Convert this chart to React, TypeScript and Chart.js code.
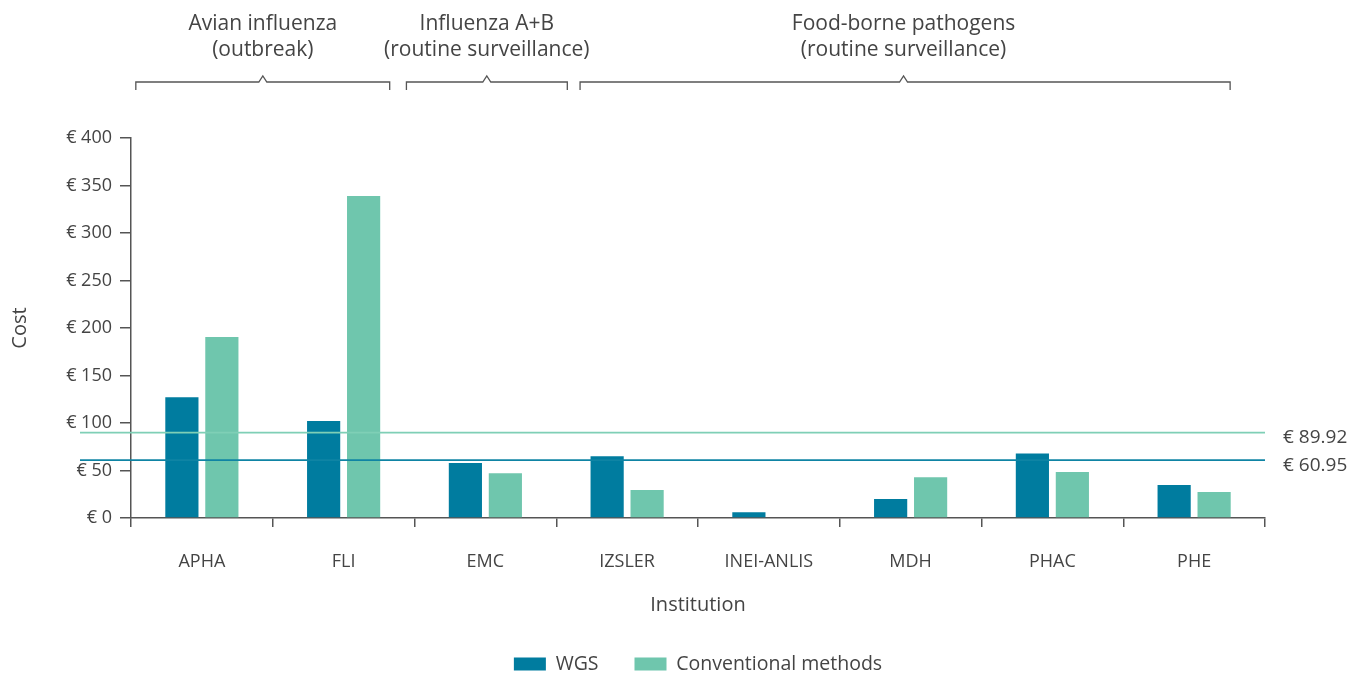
import React, { useEffect, useRef } from "react";
import { Chart, registerables } from "chart.js";

Chart.register(...registerables);

const institutions = ["APHA", "FLI", "EMC", "IZSLER", "INEI-ANLIS", "MDH", "PHAC", "PHE"];
const wgsCost = [127, 102, 58, 65, 6, 20, 68, 34.7];
const conventionalCost = [190.5, 339, 47, 29.5, null, 43, 48.5, 27.4];
const meanValues = [89.92, 60.95];
const meanLabels = ["€ 89.92", "€ 60.95"];
const groupLabels = [
  ["Avian influenza", "(outbreak)"],
  ["Influenza A+B", "(routine surveillance)"],
  ["Food-borne pathogens", "(routine surveillance)"],
];
// bracket extents in category-index units: [start, apex, end]
const groupSpans = [
  [-0.466, 0.43, 1.325],
  [1.443, 2.01, 2.578],
  [2.668, 4.95, 7.254],
];

const WGS_COLOR = "#007c9f";
const CONV_COLOR = "#6fc6ad";
const TEXT = "#444444";
const AXIS = "#555555";
const FONT = "'Open Sans', 'DejaVu Sans', sans-serif";
const meanColors = ["#7fcfb6", "#0f84a4"];

const overlayPlugin = {
  id: "overlay",
  afterInit(chart: any) {
    const legend = chart.legend;
    if (legend) {
      const origFit = legend.fit.bind(legend);
      legend.fit = function () {
        origFit();
        this.height = 56.75;
      };
    }
  },
  afterDatasetsDraw(chart: any) {
    const { ctx, chartArea, scales } = chart;
    const y = scales.y;
    const x = scales.x;
    ctx.save();
    // mean lines
    meanValues.forEach((v, i) => {
      const py = y.getPixelForValue(v);
      ctx.strokeStyle = meanColors[i];
      ctx.lineWidth = 1.8;
      ctx.beginPath();
      ctx.moveTo(80, py);
      ctx.lineTo(chartArea.right, py);
      ctx.stroke();
      ctx.fillStyle = TEXT;
      ctx.font = `19px ${FONT}`;
      ctx.textAlign = "left";
      ctx.textBaseline = "middle";
      ctx.fillText(meanLabels[i], chartArea.right + 18, py + 5);
    });
    // brackets
    groupSpans.forEach((span, i) => {
      const x0 = x.getPixelForValue(span[0]);
      const xa = x.getPixelForValue(span[1]);
      const x1 = x.getPixelForValue(span[2]);
      const by = 82;
      ctx.strokeStyle = AXIS;
      ctx.lineWidth = 1.3;
      ctx.beginPath();
      ctx.moveTo(x0, by + 8);
      ctx.lineTo(x0, by);
      ctx.lineTo(xa - 4, by);
      ctx.lineTo(xa, by - 6);
      ctx.lineTo(xa + 4, by);
      ctx.lineTo(x1, by);
      ctx.lineTo(x1, by + 8);
      ctx.stroke();
      ctx.fillStyle = TEXT;
      ctx.font = `21px ${FONT}`;
      ctx.textAlign = "center";
      ctx.textBaseline = "middle";
      ctx.fillText(groupLabels[i][0], xa, 24);
      ctx.fillText(groupLabels[i][1], xa, 50);
    });
    ctx.restore();
  },
};

export default function App() {
  const ref = useRef<HTMLCanvasElement>(null);
  useEffect(() => {
    if (!ref.current) return;
    const chart = new Chart(ref.current, {
      type: "bar",
      data: {
        labels: institutions,
        datasets: [
          {
            label: "WGS",
            data: wgsCost,
            backgroundColor: WGS_COLOR,
            categoryPercentage: 0.564,
            barPercentage: 0.83,
          },
          {
            label: "Conventional methods",
            data: conventionalCost as any,
            backgroundColor: CONV_COLOR,
            categoryPercentage: 0.564,
            barPercentage: 0.83,
          },
        ],
      },
      options: {
        animation: false,
        responsive: true,
        maintainAspectRatio: false,
        layout: { padding: { top: 138, right: 99, left: 0, bottom: 0 } },
        plugins: {
          tooltip: { enabled: false },
          legend: {
            position: "bottom",
            fullSize: false,
            labels: {
              boxWidth: 32,
              boxHeight: 13,
              padding: 36,
              color: TEXT,
              font: { family: FONT, size: 19.5 },
            },
          },
        },
        scales: {
          x: {
            afterFit: (s: any) => {
              s.height = 100.25;
            },
            grid: {
              display: true,
              drawOnChartArea: false,
              offset: true,
              tickLength: 9,
              color: AXIS,
              lineWidth: 1.5,
            },
            border: { display: true, color: AXIS, width: 1.5 },
            ticks: { color: TEXT, font: { family: FONT, size: 18 }, padding: 24 },
            title: {
              display: true,
              text: "Institution",
              color: TEXT,
              font: { family: FONT, size: 20 },
              padding: { top: 0, bottom: 1 },
            },
          },
          y: {
            min: 0,
            max: 400,
            afterFit: (s: any) => {
              s.width = 131;
            },
            grid: {
              display: true,
              drawOnChartArea: false,
              tickLength: 11,
              color: AXIS,
              lineWidth: 1.5,
            },
            border: { display: true, color: AXIS, width: 1.5 },
            ticks: {
              stepSize: 50,
              color: TEXT,
              padding: 8,
              font: { family: FONT, size: 18 },
              callback: (v: any) => "€ " + v,
            },
            title: {
              display: true,
              text: "Cost",
              color: TEXT,
              font: { family: FONT, size: 20 },
              padding: { top: 8, bottom: 0 },
            },
          },
        },
      },
      plugins: [overlayPlugin],
    });
    return () => chart.destroy();
  }, []);
  return (
    <div style={{ position: "absolute", left: 0, top: 0, width: 1364, height: 675 }}>
      <canvas ref={ref} />
    </div>
  );
}
